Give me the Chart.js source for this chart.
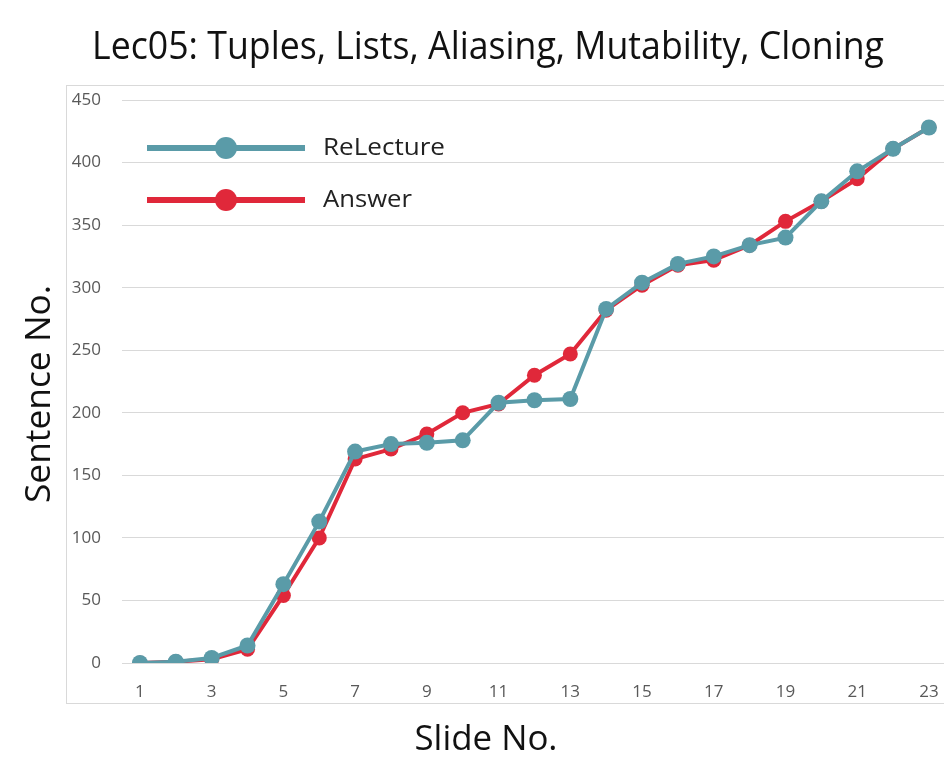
<!DOCTYPE html>
<html>
<head>
<meta charset="utf-8">
<script src="https://cdn.jsdelivr.net/npm/chart.js@4.4.1/dist/chart.umd.min.js"></script>
<style>
  html, body { margin: 0; padding: 0; background: #fff; }
  #wrap { width: 944px; height: 759px; }
</style>
</head>
<body>
<div id="wrap"><canvas id="chart" width="944" height="759"></canvas></div>
<script>
const slides = [1, 2, 3, 4, 5, 6, 7, 8, 9, 10, 11, 12, 13, 14, 15, 16, 17, 18, 19, 20, 21, 22, 23];
const reLecture = [0, 1, 4, 14, 63, 113, 169, 175, 176, 178, 208, 210, 211, 283, 304, 319, 325, 334, 340, 369, 393, 411, 428];
const answer = [0, 1, 3, 11, 54, 100, 163, 171, 183, 200, 207, 230, 247, 282, 302, 318, 322, 334, 353, 369, 387, 411, 428];
const xTicks = [1, 3, 5, 7, 9, 11, 13, 15, 17, 19, 21, 23];
const yTicks = [0, 50, 100, 150, 200, 250, 300, 350, 400, 450];

const TEAL = '#5a9ba8';
const RED = '#e0283a';
const FONT = '"Open Sans", "Noto Sans", sans-serif';

// text drawn squeezed to a target width, like the narrow office font of the original
function fitText(ctx, text, x, y, size, targetW, color, align) {
    ctx.save();
    ctx.font = size + 'px ' + FONT;
    ctx.fillStyle = color;
    ctx.textBaseline = 'middle';
    const w = ctx.measureText(text).width;
    const k = targetW / w;
    ctx.translate(x, y);
    ctx.scale(k, 1);
    ctx.textAlign = align || 'center';
    ctx.fillText(text, 0, 0);
    ctx.restore();
}

const decor = {
    id: 'decor',
    beforeDraw(chart) {
        const ctx = chart.ctx;
        ctx.save();
        ctx.strokeStyle = '#d9d9d9';
        ctx.lineWidth = 1;
        ctx.strokeRect(66.5, 85.5, 900, 618);
        ctx.restore();
    },
    afterDraw(chart) {
        const ctx = chart.ctx;
        fitText(ctx, 'Lec05: Tuples, Lists, Aliasing, Mutability, Cloning', 488, 48, 38, 792, '#111');
        fitText(ctx, 'Slide No.', 486, 740, 34, 143, '#111');
        ctx.save();
        ctx.translate(40, 394);
        ctx.rotate(-Math.PI / 2);
        fitText(ctx, 'Sentence No.', 0, 0, 34, 218, '#111');
        ctx.restore();

        // legend
        const rows = [148, 200];
        chart.data.datasets.forEach((ds, i) => {
            const y = rows[i];
            ctx.save();
            ctx.strokeStyle = ds.borderColor;
            ctx.lineWidth = 6;
            ctx.beginPath();
            ctx.moveTo(147, y);
            ctx.lineTo(305, y);
            ctx.stroke();
            ctx.fillStyle = ds.borderColor;
            ctx.beginPath();
            ctx.arc(226, y, 11, 0, Math.PI * 2);
            ctx.fill();
            ctx.restore();
            fitText(ctx, ds.label, 323, y, 24, ds.label === 'ReLecture' ? 122 : 89, '#222', 'left');
        });
    }
};

new Chart(document.getElementById('chart'), {
    type: 'line',
    data: {
        labels: slides,
        datasets: [
            {
                label: 'ReLecture',
                data: slides.map((s, i) => ({ x: s, y: reLecture[i] })),
                borderColor: TEAL,
                backgroundColor: TEAL,
                borderWidth: 4,
                pointRadius: 8,
                pointBorderWidth: 0,
                tension: 0
            },
            {
                label: 'Answer',
                data: slides.map((s, i) => ({ x: s, y: answer[i] })),
                borderColor: RED,
                backgroundColor: RED,
                borderWidth: 4,
                pointRadius: 7.5,
                pointBorderWidth: 0,
                tension: 0
            }
        ]
    },
    options: {
        responsive: false,
        animation: false,
        layout: { autoPadding: false, padding: { top: 100, left: 0, right: 0, bottom: 0 } },
        plugins: {
            legend: { display: false },
            title: { display: false },
            tooltip: { enabled: false }
        },
        scales: {
            x: {
                type: 'linear',
                min: 0.5,
                max: 23.42,
                afterBuildTicks: s => { s.ticks = xTicks.map(v => ({ value: v })); },
                afterFit: s => { s.height = 96; s.paddingLeft = 0; s.paddingRight = 0; },
                grid: { display: false, drawTicks: false },
                border: { display: false },
                ticks: {
                    padding: 19,
                    autoSkip: false,
                    maxRotation: 0,
                    color: '#595959',
                    font: { family: FONT, size: 17 }
                }
            },
            y: {
                min: 0,
                max: 450,
                afterBuildTicks: s => { s.ticks = yTicks.map(v => ({ value: v })); },
                afterFit: s => { s.width = 122; s.paddingTop = 0; s.paddingBottom = 0; },
                grid: { color: '#d9d9d9', lineWidth: 1, drawTicks: false },
                border: { display: false },
                ticks: {
                    padding: 21,
                    color: '#595959',
                    font: { family: FONT, size: 17 }
                }
            }
        }
    },
    plugins: [decor]
});
</script>
</body>
</html>
